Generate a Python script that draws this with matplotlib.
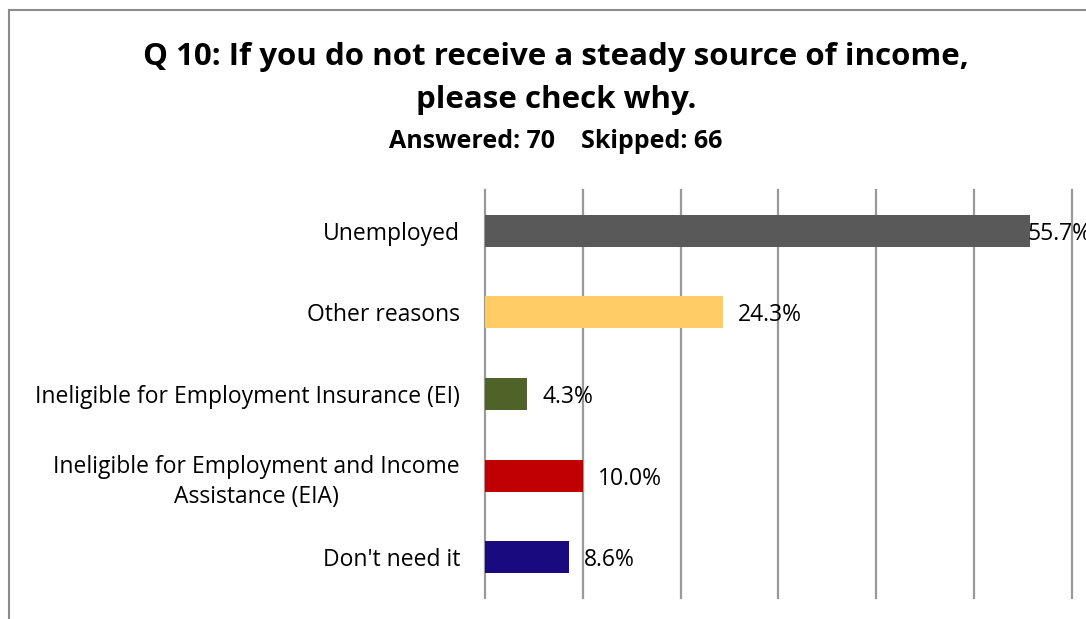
import matplotlib
matplotlib.use("Agg")
import matplotlib.pyplot as plt
from matplotlib.patches import Rectangle

plt.rcParams["font.family"] = ["Open Sans", "DejaVu Sans"]

categories = ["Unemployed", "Other reasons", "Ineligible for Employment Insurance (EI)",
              "Ineligible for Employment and Income\nAssistance (EIA)", "Don't need it"]
values = [55.7, 24.3, 4.3, 10.0, 8.6]
colors = ["#595959", "#FFCC66", "#4F6228", "#C00000", "#1A0A80"]
grid_ticks = [0, 10, 20, 30, 40, 50, 60, 70]

W, H = 1086, 619
fig = plt.figure(figsize=(W / 100, H / 100), dpi=100)

# chart border (runs off the right and bottom edges)
fig.patches.append(Rectangle((9 / W, -0.05), 1.2, 1 - 10 / H + 0.05,
                             transform=fig.transFigure, fill=False,
                             edgecolor="#8c8c8c", linewidth=1.5))

fig.text(556 / W, 1 - 57 / H, "Q 10: If you do not receive a steady source of income,",
         ha="center", va="center", fontsize=22.5, fontweight="bold")
fig.text(556 / W, 1 - 100 / H, "please check why.",
         ha="center", va="center", fontsize=22.5, fontweight="bold")
fig.text(556 / W, 1 - 141 / H, "Answered: 70    Skipped: 66",
         ha="center", va="center", fontsize=18, fontweight="bold")

# axes: 0 at x=485px, 10% per ~97.8px, plot spans y=190..598px
left = 485 / W
width = 70 * 9.78 / W
ax = fig.add_axes([left, 1 - 598 / H, width, 408 / H])

y = list(range(len(categories)))
ax.barh(y, values, height=0.39, color=colors, zorder=3)
ax.set_xlim(0, 70)
ax.set_ylim(len(categories) - 0.5, -0.5)

for g in grid_ticks:
    ax.axvline(g, color="#999999", linewidth=1.6, zorder=1, clip_on=False)

for s in ax.spines.values():
    s.set_visible(False)
ax.set_xticks([])
ax.set_yticks(y)
ax.set_yticklabels(categories, fontsize=16.5, multialignment="center", linespacing=1.35)
ax.tick_params(axis="y", length=0, pad=18)

for yi, v in zip(y, values):
    # long bars get the label tucked against the end, as the chart area clips it
    off = -2 if v > 50 else 15
    ax.annotate(f"{v:.1f}%", (v, yi), xytext=(off, -3), textcoords="offset pixels",
                ha="left", va="center", fontsize=16.5, zorder=4)

fig.savefig("out.png", dpi=100)
